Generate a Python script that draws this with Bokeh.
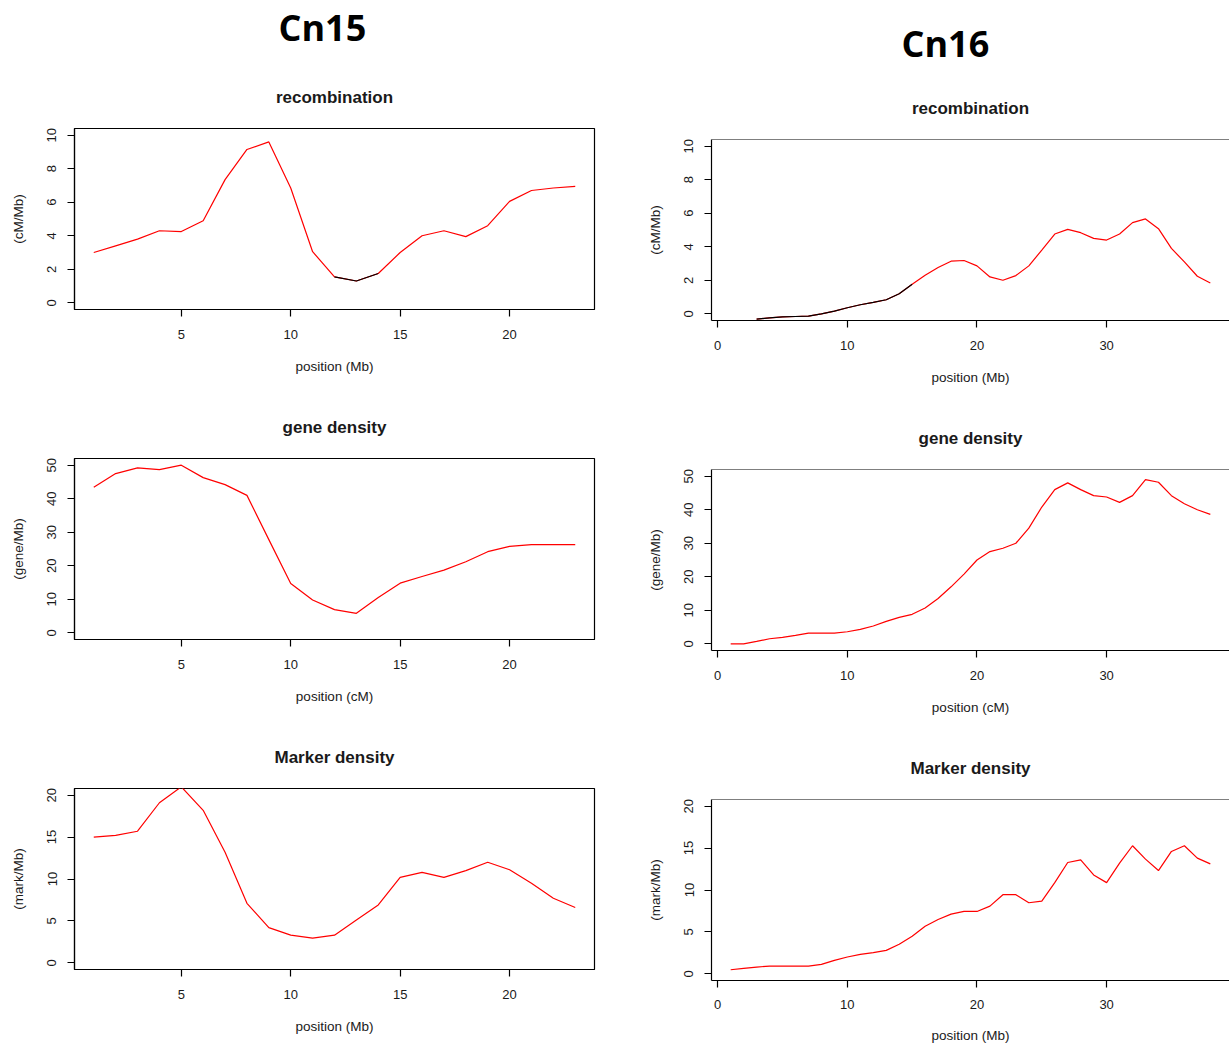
from bokeh.plotting import figure
from bokeh.layouts import row, column
from bokeh.models import FixedTicker, Range1d, Span
from bokeh.embed import file_html
from bokeh.resources import INLINE

# ---- Cn15 (positions 1..23) ----
pos15 = list(range(1, 24))
rec15 = [3.0, 3.4, 3.8, 4.3, 4.25, 4.9, 7.35, 9.15, 9.6, 6.85, 3.05, 1.55,
         1.3, 1.75, 3.0, 4.0, 4.3, 3.95, 4.6, 6.05, 6.7, 6.85, 6.95]
gene15 = [43.4, 47.5, 49.2, 48.7, 50.0, 46.3, 44.2, 41.0, 27.8, 14.7, 9.8, 6.9,
          5.8, 10.5, 14.8, 16.8, 18.7, 21.2, 24.2, 25.8, 26.3, 26.3, 26.3]
mark15 = [15.0, 15.2, 15.7, 19.1, 21.0, 18.2, 13.2, 7.1, 4.2, 3.3, 2.95, 3.3,
          5.1, 6.9, 10.2, 10.8, 10.2, 11.0, 12.0, 11.1, 9.5, 7.7, 6.6]

# ---- Cn16 (positions 1..38; recombination from 3) ----
pos16 = list(range(1, 39))
pos16_rec = list(range(3, 39))
rec16 = [-0.32, -0.24, -0.18, -0.16, -0.14, 0.0, 0.16, 0.36, 0.54, 0.68, 0.84,
         1.2, 1.76, 2.3, 2.76, 3.14, 3.18, 2.86, 2.2, 2.0, 2.28, 2.86, 3.8,
         4.76, 5.04, 4.84, 4.5, 4.4, 4.76, 5.44, 5.66, 5.08, 3.9, 3.1, 2.24, 1.84]
gene16 = [0.0, 0.0, 0.7, 1.5, 1.9, 2.5, 3.2, 3.2, 3.2, 3.6, 4.3, 5.3, 6.7, 7.9,
          8.8, 10.7, 13.5, 17.0, 20.8, 25.0, 27.5, 28.5, 30.0, 34.5, 40.8, 46.0,
          48.0, 46.0, 44.2, 43.8, 42.2, 44.2, 49.0, 48.2, 44.2, 41.8, 40.0, 38.6]
mark16 = [0.48, 0.64, 0.8, 0.92, 0.92, 0.92, 0.92, 1.12, 1.6, 2.0, 2.32, 2.52,
          2.8, 3.52, 4.48, 5.68, 6.48, 7.12, 7.44, 7.44, 8.08, 9.44, 9.44, 8.48,
          8.68, 10.88, 13.28, 13.6, 11.8, 10.88, 13.2, 15.28, 13.68, 12.32,
          14.6, 15.28, 13.8, 13.12]

# axis limits / ticks
rec_ylim, rec_yticks = (0, 10), [0, 2, 4, 6, 8, 10]
gene_ylim, gene_yticks = (0, 50), [0, 10, 20, 30, 40, 50]
mark_ylim, mark_yticks = (0, 20), [0, 5, 10, 15, 20]
xticks15 = [5, 10, 15, 20]
xticks16 = [0, 10, 20, 30]

SANS = "Liberation Sans"
RED = "#FF0000"
INK = "#1a1a1a"


def padded(lo, hi):
    pad = 0.04 * (hi - lo)
    return (lo - pad, hi + pad)


def panel(title, x, y, xspan, ylim, xticks, yticks, xlabel, ylabel,
          width, height, left, right, top, bottom,
          open_right=False, low_black=False, x_label_gap=(13, 17)):
    p = figure(width=width, height=height,
               x_range=Range1d(*padded(min(xspan), max(xspan))),
               y_range=Range1d(*padded(*ylim)),
               output_backend="svg", toolbar_location=None,
               min_border_left=left, min_border_right=right,
               min_border_top=top, min_border_bottom=bottom,
               title=title)
    p.title.align = "center"
    p.title.text_font = SANS
    p.title.text_font_size = "17px"
    p.title.text_font_style = "bold"
    p.title.text_color = INK
    p.title.standoff = 44
    p.grid.visible = False
    p.background_fill_color = "white"
    p.border_fill_color = "white"
    if open_right:
        # frame runs off the right edge: draw only the top edge of the box
        p.outline_line_color = None
        p.add_layout(Span(location=p.y_range.end, dimension="width",
                          line_color="black", line_width=1.2))
    else:
        p.outline_line_color = "black"
        p.outline_line_width = 1.2

    p.line(x, y, line_color=RED, line_width=1.2)
    if low_black:
        # stretches below 2 cM/Mb are drawn in black
        low = [v if v < 2 else float("nan") for v in y]
        p.line(x, low, line_color="black", line_width=1.2)

    for ax in (p.xaxis[0], p.yaxis[0]):
        ax.axis_line_color = "black"
        ax.axis_line_width = 1.2
        ax.major_tick_line_color = "black"
        ax.major_tick_line_width = 1.2
        ax.major_tick_out = 7
        ax.major_tick_in = 0
        ax.minor_tick_line_color = None
        ax.major_label_text_font = SANS
        ax.major_label_text_font_size = "13px"
        ax.major_label_text_color = INK
        ax.axis_label_text_font = SANS
        ax.axis_label_text_font_size = "13.5px"
        ax.axis_label_text_font_style = "normal"
        ax.axis_label_text_color = INK
    p.xaxis.ticker = FixedTicker(ticks=xticks)
    p.yaxis.ticker = FixedTicker(ticks=yticks)
    p.xaxis.axis_label = xlabel
    p.yaxis.axis_label = ylabel
    p.xaxis.major_label_standoff = x_label_gap[0]
    p.xaxis.axis_label_standoff = x_label_gap[1]
    p.yaxis.major_label_orientation = "vertical"
    p.yaxis.major_label_standoff = 11
    p.yaxis.axis_label_standoff = 19
    return p


def header(text, width, height, left, top, offset, standoff):
    h = figure(width=width, height=height, title=text,
               x_axis_location=None, y_axis_location=None,
               output_backend="svg", toolbar_location=None,
               min_border_left=left, min_border_right=0,
               min_border_top=top, min_border_bottom=0)
    h.title.align = "left"
    h.title.offset = offset
    h.title.standoff = standoff
    h.title.text_font = "Open Sans"
    h.title.text_font_style = "bold"
    h.title.text_font_size = "36px"
    h.title.text_color = "black"
    h.grid.visible = False
    h.outline_line_color = None
    h.background_fill_color = "white"
    h.border_fill_color = "white"
    return h


# left column: Cn15
h15 = header("Cn15", 614, 60, 74, 46, 204, 0)
f1 = panel("recombination", pos15, rec15, pos15, rec_ylim, xticks15, rec_yticks,
           "position (Mb)", "(cM/Mb)", 614, 330, 74, 20, 68, 81, low_black=True)
f3 = panel("gene density", pos15, gene15, pos15, gene_ylim, xticks15, gene_yticks,
           "position (cM)", "(gene/Mb)", 614, 330, 74, 20, 68, 81)
f5 = panel("Marker density", pos15, mark15, pos15, mark_ylim, xticks15, mark_yticks,
           "position (Mb)", "(mark/Mb)", 614, 326, 74, 20, 68, 77)

# right column: Cn16
h16 = header("Cn16", 615, 71, 97, 68, 190, 2)
f2 = panel("recombination", pos16_rec, rec16, pos16, rec_ylim, xticks16, rec_yticks,
           "position (Mb)", "(cM/Mb)", 615, 330, 97, 0, 68, 81,
           open_right=True, low_black=True)
f4 = panel("gene density", pos16, gene16, pos16, gene_ylim, xticks16, gene_yticks,
           "position (cM)", "(gene/Mb)", 615, 330, 97, 0, 68, 81, open_right=True)
f6 = panel("Marker density", pos16, mark16, pos16, mark_ylim, xticks16, mark_yticks,
           "position (Mb)", "(mark/Mb)", 615, 315, 97, 0, 68, 66,
           open_right=True, x_label_gap=(12, 16))

layout = row(column(h15, f1, f3, f5, spacing=0),
             column(h16, f2, f4, f6, spacing=0), spacing=0)

with open("out.html", "w") as fh:
    fh.write(file_html(layout, INLINE))
